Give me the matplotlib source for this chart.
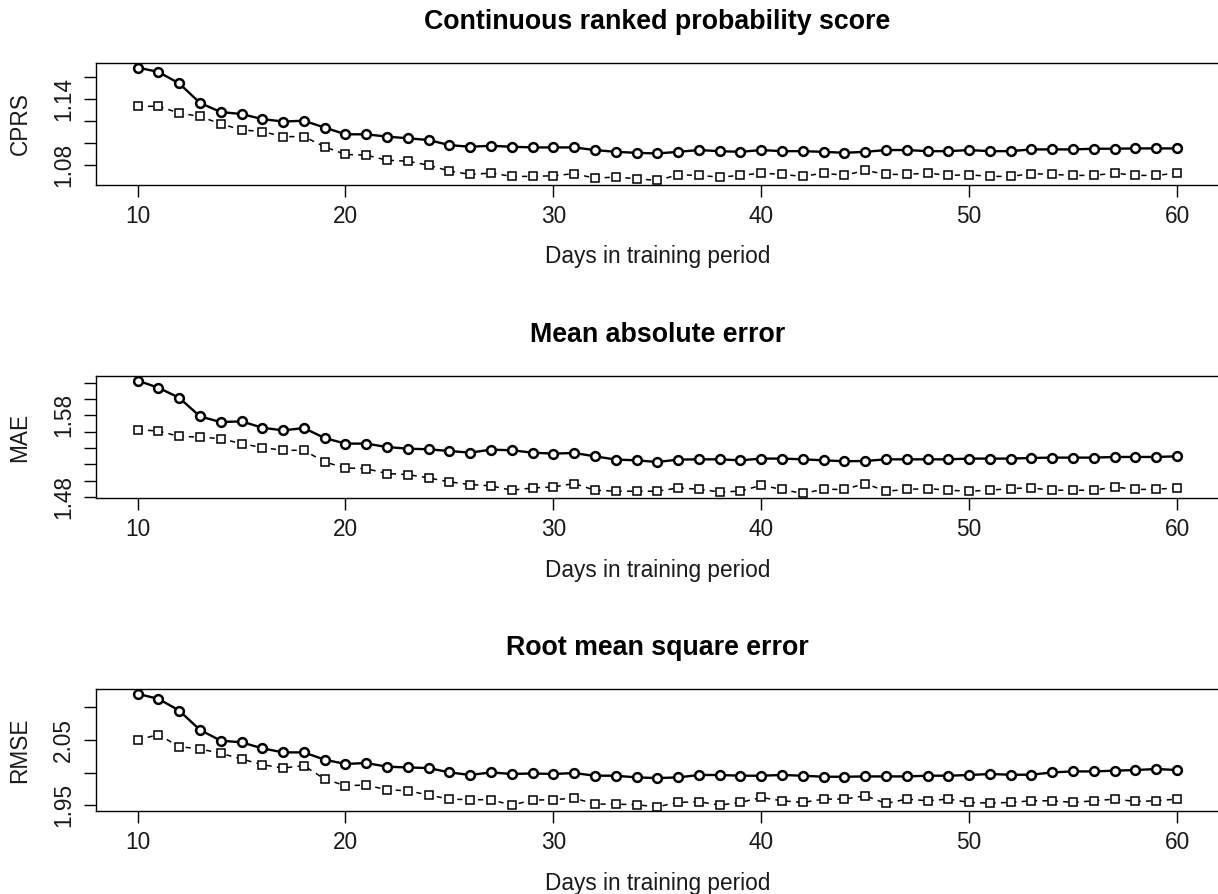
import numpy as np
import matplotlib.pyplot as plt

plt.rcParams['font.family'] = ['Liberation Sans', 'DejaVu Sans']

# training window lengths (days)
days = np.arange(10, 61)

crps_full = [1.1687, 1.1647, 1.1543, 1.1366, 1.1283, 1.1265, 1.1219, 1.1197, 1.1204, 1.1142,
             1.1081, 1.1081, 1.1060, 1.1045, 1.1029, 1.0983, 1.0968, 1.0977, 1.0968, 1.0962,
             1.0962, 1.0962, 1.0938, 1.0922, 1.0913, 1.0907, 1.0922, 1.0938, 1.0928, 1.0922,
             1.0938, 1.0928, 1.0928, 1.0922, 1.0913, 1.0922, 1.0938, 1.0938, 1.0928, 1.0928,
             1.0938, 1.0928, 1.0928, 1.0944, 1.0944, 1.0944, 1.0950, 1.0950, 1.0953, 1.0953,
             1.0953]
crps_sel = [1.1335, 1.1335, 1.1274, 1.1243, 1.1176, 1.1121, 1.1106, 1.1060, 1.1060, 1.0968,
            1.0898, 1.0892, 1.0846, 1.0837, 1.0800, 1.0748, 1.0717, 1.0729, 1.0699, 1.0699,
            1.0705, 1.0724, 1.0683, 1.0693, 1.0678, 1.0662, 1.0714, 1.0708, 1.0693, 1.0708,
            1.0729, 1.0717, 1.0699, 1.0729, 1.0708, 1.0754, 1.0717, 1.0717, 1.0729, 1.0708,
            1.0714, 1.0699, 1.0699, 1.0724, 1.0717, 1.0708, 1.0708, 1.0729, 1.0708, 1.0708,
            1.0729]

mae_full = [1.6228, 1.6139, 1.6017, 1.5788, 1.5718, 1.5727, 1.5649, 1.5616, 1.5645, 1.5522,
            1.5454, 1.5454, 1.5412, 1.5392, 1.5384, 1.5363, 1.5343, 1.5380, 1.5372, 1.5343,
            1.5331, 1.5339, 1.5298, 1.5258, 1.5249, 1.5228, 1.5258, 1.5261, 1.5261, 1.5249,
            1.5270, 1.5270, 1.5261, 1.5249, 1.5237, 1.5241, 1.5261, 1.5261, 1.5261, 1.5261,
            1.5270, 1.5270, 1.5270, 1.5278, 1.5282, 1.5282, 1.5282, 1.5290, 1.5290, 1.5290,
            1.5298]
mae_sel = [1.5625, 1.5608, 1.5543, 1.5534, 1.5514, 1.5454, 1.5405, 1.5372, 1.5372, 1.5228,
           1.5155, 1.5147, 1.5086, 1.5074, 1.5033, 1.4984, 1.4952, 1.4935, 1.4882, 1.4910,
           1.4922, 1.4964, 1.4882, 1.4870, 1.4870, 1.4870, 1.4910, 1.4894, 1.4861, 1.4870,
           1.4943, 1.4891, 1.4842, 1.4894, 1.4891, 1.4964, 1.4870, 1.4891, 1.4903, 1.4882,
           1.4870, 1.4882, 1.4903, 1.4910, 1.4882, 1.4882, 1.4882, 1.4922, 1.4891, 1.4894,
           1.4910]

rmse_full = [2.1208, 2.1131, 2.0951, 2.0654, 2.0489, 2.0463, 2.0371, 2.0309, 2.0309, 2.0197,
             2.0131, 2.0146, 2.0089, 2.0078, 2.0068, 2.0002, 1.9962, 2.0002, 1.9977, 1.9986,
             1.9977, 1.9992, 1.9951, 1.9951, 1.9925, 1.9915, 1.9925, 1.9962, 1.9962, 1.9951,
             1.9951, 1.9962, 1.9951, 1.9935, 1.9935, 1.9940, 1.9940, 1.9940, 1.9951, 1.9951,
             1.9962, 1.9977, 1.9966, 1.9966, 2.0002, 2.0017, 2.0017, 2.0028, 2.0038, 2.0054,
             2.0038]
rmse_sel = [2.0500, 2.0582, 2.0397, 2.0362, 2.0294, 2.0208, 2.0120, 2.0069, 2.0105, 1.9900,
            1.9797, 1.9808, 1.9735, 1.9720, 1.9654, 1.9592, 1.9582, 1.9582, 1.9500, 1.9577,
            1.9582, 1.9608, 1.9515, 1.9515, 1.9505, 1.9474, 1.9541, 1.9551, 1.9500, 1.9541,
            1.9617, 1.9566, 1.9541, 1.9592, 1.9592, 1.9643, 1.9525, 1.9592, 1.9566, 1.9592,
            1.9541, 1.9531, 1.9541, 1.9566, 1.9566, 1.9541, 1.9566, 1.9592, 1.9556, 1.9566,
            1.9592]

titles = ["Continuous ranked probability score", "Mean absolute error", "Root mean square error"]
ylabels = ["CPRS", "MAE", "RMSE"]
xticks = [10, 20, 30, 40, 50, 60]
yticks = [[1.08, 1.10, 1.12, 1.14, 1.16],
          [1.48, 1.50, 1.52, 1.54, 1.56, 1.58, 1.60, 1.62],
          [1.95, 2.00, 2.05, 2.10]]
yticklabels = [["1.08", "", "", "1.14", ""],
               ["1.48", "", "", "", "", "1.58", "", ""],
               ["1.95", "", "2.05", ""]]
series = [(crps_full, crps_sel), (mae_full, mae_sel), (rmse_full, rmse_sel)]

W, H = 1218, 894
fig = plt.figure(figsize=(W / 100, H / 100), dpi=100)

tops = [63, 376, 689.3]
ph = 122
left = 96
pw = 1122.6


def padded(v):
    # R style 4% range extension
    lo, hi = min(v), max(v)
    r = hi - lo
    return lo - 0.04 * r, hi + 0.04 * r


for i in range(3):
    ax = fig.add_axes([left / W, 1 - (tops[i] + ph) / H, pw / W, ph / H])
    full, sel = series[i]

    ax.plot(days, sel, color='black', lw=1.1, ls=(0, (3.4, 3.4)),
            marker='s', ms=5.3, mfc='white', mec='black', mew=1.1)
    ax.plot(days, full, color='black', lw=1.7, ls='-',
            marker='o', ms=6.3, mfc='white', mec='black', mew=1.8)

    ax.set_xlim(padded(days))
    ax.set_ylim(padded(list(full) + list(sel)))

    ax.set_xticks(xticks)
    ax.set_yticks(yticks[i])
    ax.set_yticklabels(yticklabels[i], rotation=90, va='center')

    ax.tick_params(direction='out', length=8.3, width=1.0, labelsize=16.3,
                   color='black', labelcolor='#1a1a1a')
    ax.tick_params(axis='x', pad=6)
    ax.tick_params(axis='y', pad=7)

    for s in ['left', 'top', 'bottom']:
        ax.spines[s].set_linewidth(1.0)
    ax.spines['right'].set_visible(False)

    ax.set_title(titles[i], fontsize=19.3, fontweight='bold', pad=24.8)
    ax.set_xlabel("Days in training period", fontsize=16.3, color='#1a1a1a')
    ax.xaxis.set_label_coords(0.5, (185 - 245.5) / ph)
    ax.set_ylabel(ylabels[i], fontsize=16.3, color='#1a1a1a')
    ax.yaxis.set_label_coords((31.5 - left) / pw, 0.5)

plt.savefig("out.png", dpi=100, facecolor='white')
